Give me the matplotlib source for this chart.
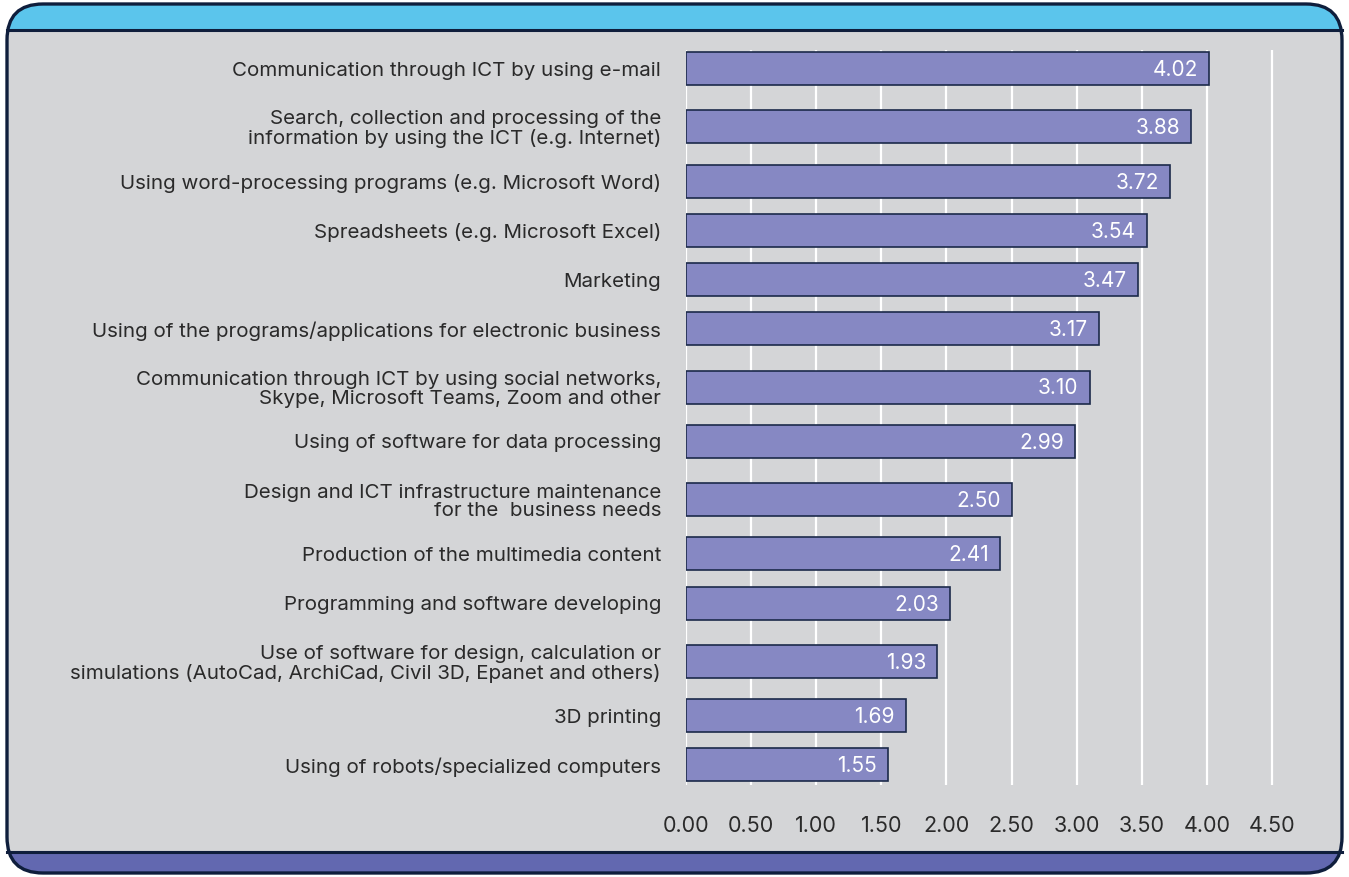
import matplotlib.pyplot as plt
from matplotlib.patches import FancyBboxPatch, Rectangle

# ================================================================
# DATA
# ================================================================

categories = [
    "Communication through ICT by using e-mail",
    "Search, collection and processing of the\ninformation by using the ICT (e.g. Internet)",
    "Using word-processing programs (e.g. Microsoft Word)",
    "Spreadsheets (e.g. Microsoft Excel)",
    "Marketing",
    "Using of the programs/applications for electronic business",
    "Communication through ICT by using social networks,\nSkype, Microsoft Teams, Zoom and other",
    "Using of software for data processing",
    "Design and ICT infrastructure maintenance\nfor the  business needs",
    "Production of the multimedia content",
    "Programming and software developing",
    "Use of software for design, calculation or\nsimulations (AutoCad, ArchiCad, Civil 3D, Epanet and others)",
    "3D printing",
    "Using of robots/specialized computers",
]
values = [4.02, 3.88, 3.72, 3.54, 3.47, 3.17, 3.10, 2.99, 2.50, 2.41, 2.03, 1.93, 1.69, 1.55]
x_ticks = [0, 0.5, 1.0, 1.5, 2.0, 2.5, 3.0, 3.5, 4.0, 4.5]

# ================================================================
# STYLE
# ================================================================

W, H = 1349, 877
BG = "#d4d5d7"
HEADER = "#5bc5ec"
FOOTER = "#6268b0"
EDGE = "#0f1e3c"
BAR = "#8688c3"
TEXT = "#2a2a2a"
plt.rcParams["font.family"] = ["Inter", "DejaVu Sans"]

fig = plt.figure(figsize=(W / 100, H / 100), dpi=100)

# frame drawn in pixel coords
bg = fig.add_axes([0, 0, 1, 1])
bg.set_xlim(0, W)
bg.set_ylim(H, 0)
bg.axis("off")

box = dict(boxstyle="round,pad=0,rounding_size=36")
frame = FancyBboxPatch((7, 4), W - 14, H - 8, facecolor="none",
                       edgecolor="none", **box)
bg.add_patch(frame)
for y0, h, c in [(0, 30, HEADER), (30, 822, BG), (852, 30, FOOTER)]:
    r = Rectangle((0, y0), W, h, facecolor=c, edgecolor="none")
    bg.add_patch(r)
    r.set_clip_path(frame)
bg.plot([7, W - 7], [30, 30], color=EDGE, lw=2.2)
bg.plot([7, W - 7], [852, 852], color=EDGE, lw=2.2)
bg.add_patch(FancyBboxPatch((7, 4), W - 14, H - 8, facecolor="none",
                            edgecolor=EDGE, lw=2.4, **box))

# ================================================================
# BAR CHART
# ================================================================

# row spacing: a bit more room around two-line labels
lines = [c.count("\n") + 1 for c in categories]
pos = [0]
for i in range(1, len(categories)):
    gap = 49 + (9 if lines[i] == 2 else 0) + (5 if lines[i - 1] == 2 else 0)
    pos.append(pos[-1] + gap)

ax_left, ax_right = 686, 1298
ax_top, ax_bottom = 50, 785
ax = fig.add_axes([ax_left / W, (H - ax_bottom) / H,
                   (ax_right - ax_left) / W, (ax_bottom - ax_top) / H])
ax.set_facecolor("none")

ax.barh(pos, values, height=33, color=BAR, edgecolor="#1c2a4a",
        linewidth=1.2, zorder=3)
for p, v in zip(pos, values):
    ax.annotate(f"{v:.2f}", (v, p), xytext=(-8, -1), textcoords="offset points",
                ha="right", va="center", color="white", fontsize=15, zorder=4)

ax.set_xlim(0, 4.7)
ax.set_ylim(pos[-1] + 20, -18.5)
ax.set_xticks(x_ticks)
ax.set_xticklabels([f"{t:.2f}" for t in x_ticks])
ax.set_yticks(pos)
ax.set_yticklabels(categories, linespacing=1.05)
ax.tick_params(axis="x", length=0, pad=22, labelsize=15.5, labelcolor=TEXT)
ax.tick_params(axis="y", length=0, pad=18, labelsize=14.8, labelcolor=TEXT)
ax.grid(axis="x", color="white", linewidth=1.6, zorder=0)
ax.set_axisbelow(True)
for s in ax.spines.values():
    s.set_visible(False)

fig.savefig("out.png", dpi=100)
